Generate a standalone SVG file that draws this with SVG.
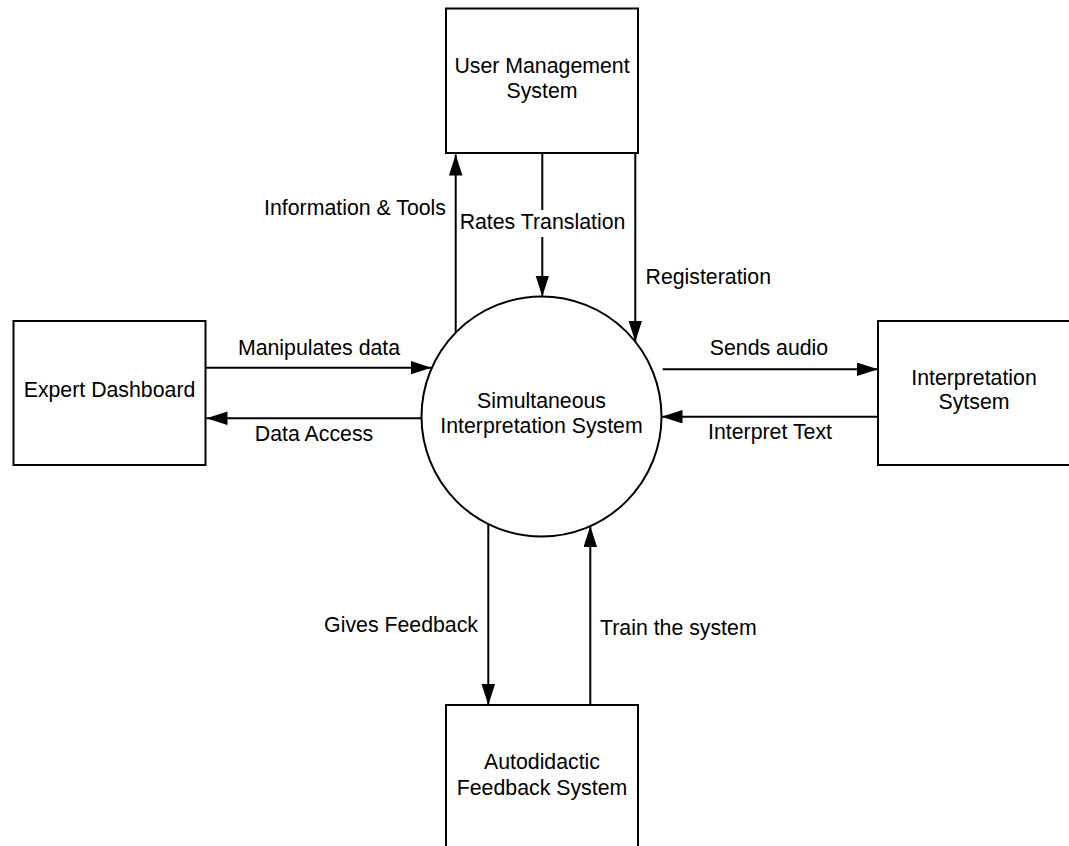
<svg xmlns="http://www.w3.org/2000/svg" width="1069" height="846" viewBox="0 0 1069 846">
  <style>
    .box { fill: #ffffff; stroke: #000000; stroke-width: 2; }
    .flow { fill: none; stroke: #000000; stroke-width: 2; }
    text { font-family: "Liberation Sans", Arial, sans-serif; font-size: 21.3px; fill: #000000; }
    .mid { text-anchor: middle; }
    .end { text-anchor: end; }
  </style>
  <defs>
    <marker id="arrow" markerUnits="userSpaceOnUse" markerWidth="23" markerHeight="14" refX="21" refY="6.75" orient="auto">
      <path d="M0,0 L21,6.75 L0,13.5 Z" fill="#000000"/>
    </marker>
  </defs>

  <rect width="1069" height="846" fill="#ffffff"/>

  <!-- connectors -->
  <g id="connectors">
    <line class="flow" x1="455.7" y1="332.6" x2="455.7" y2="154.5" marker-end="url(#arrow)"/>
    <line class="flow" x1="542.3" y1="153" x2="542.3" y2="296.5" marker-end="url(#arrow)"/>
    <line class="flow" x1="635.3" y1="153" x2="635.3" y2="341.7" marker-end="url(#arrow)"/>
    <line class="flow" x1="206" y1="367.7" x2="431.5" y2="367.7" marker-end="url(#arrow)"/>
    <line class="flow" x1="421.5" y1="418.3" x2="206.5" y2="418.3" marker-end="url(#arrow)"/>
    <line class="flow" x1="662.7" y1="369.3" x2="878" y2="369.3" marker-end="url(#arrow)"/>
    <line class="flow" x1="878" y1="416.7" x2="661.5" y2="416.7" marker-end="url(#arrow)"/>
    <line class="flow" x1="488.3" y1="524" x2="488.3" y2="705" marker-end="url(#arrow)"/>
    <line class="flow" x1="590.3" y1="705" x2="590.3" y2="526" marker-end="url(#arrow)"/>

    <!-- connector labels -->
    <text class="end" x="446" y="215">Information &amp; Tools</text>
    <rect x="458" y="210" width="170" height="27" fill="#ffffff"/>
    <text class="mid" x="542.5" y="229">Rates Translation</text>
    <text x="645.5" y="284">Registeration</text>
    <text class="mid" x="319" y="355">Manipulates data</text>
    <text class="mid" x="314" y="441">Data Access</text>
    <text class="mid" x="769" y="355">Sends audio</text>
    <text class="mid" x="770" y="439">Interpret Text</text>
    <text class="end" x="478" y="632">Gives Feedback</text>
    <text x="600" y="635">Train the system</text>
  </g>

  <g id="user-management">
    <rect class="box" x="446" y="8.5" width="192" height="144.5"/>
    <text class="mid" x="542" y="73">User Management</text>
    <text class="mid" x="542" y="98">System</text>
  </g>

  <g id="expert-dashboard">
    <rect class="box" x="13.5" y="321" width="192" height="144"/>
    <text class="mid" x="109.5" y="397">Expert Dashboard</text>
  </g>

  <g id="interpretation-sytsem">
    <rect class="box" x="878" y="321" width="192" height="144"/>
    <text class="mid" x="974" y="385">Interpretation</text>
    <text class="mid" x="974" y="409">Sytsem</text>
  </g>

  <g id="simultaneous-interpretation">
    <circle class="box" cx="541.5" cy="416.5" r="120"/>
    <text class="mid" x="541.5" y="408">Simultaneous</text>
    <text class="mid" x="541.5" y="433">Interpretation System</text>
  </g>

  <g id="autodidactic-feedback">
    <rect class="box" x="446" y="705" width="192" height="145"/>
    <text class="mid" x="542" y="769">Autodidactic</text>
    <text class="mid" x="542" y="795">Feedback System</text>
  </g>
</svg>
